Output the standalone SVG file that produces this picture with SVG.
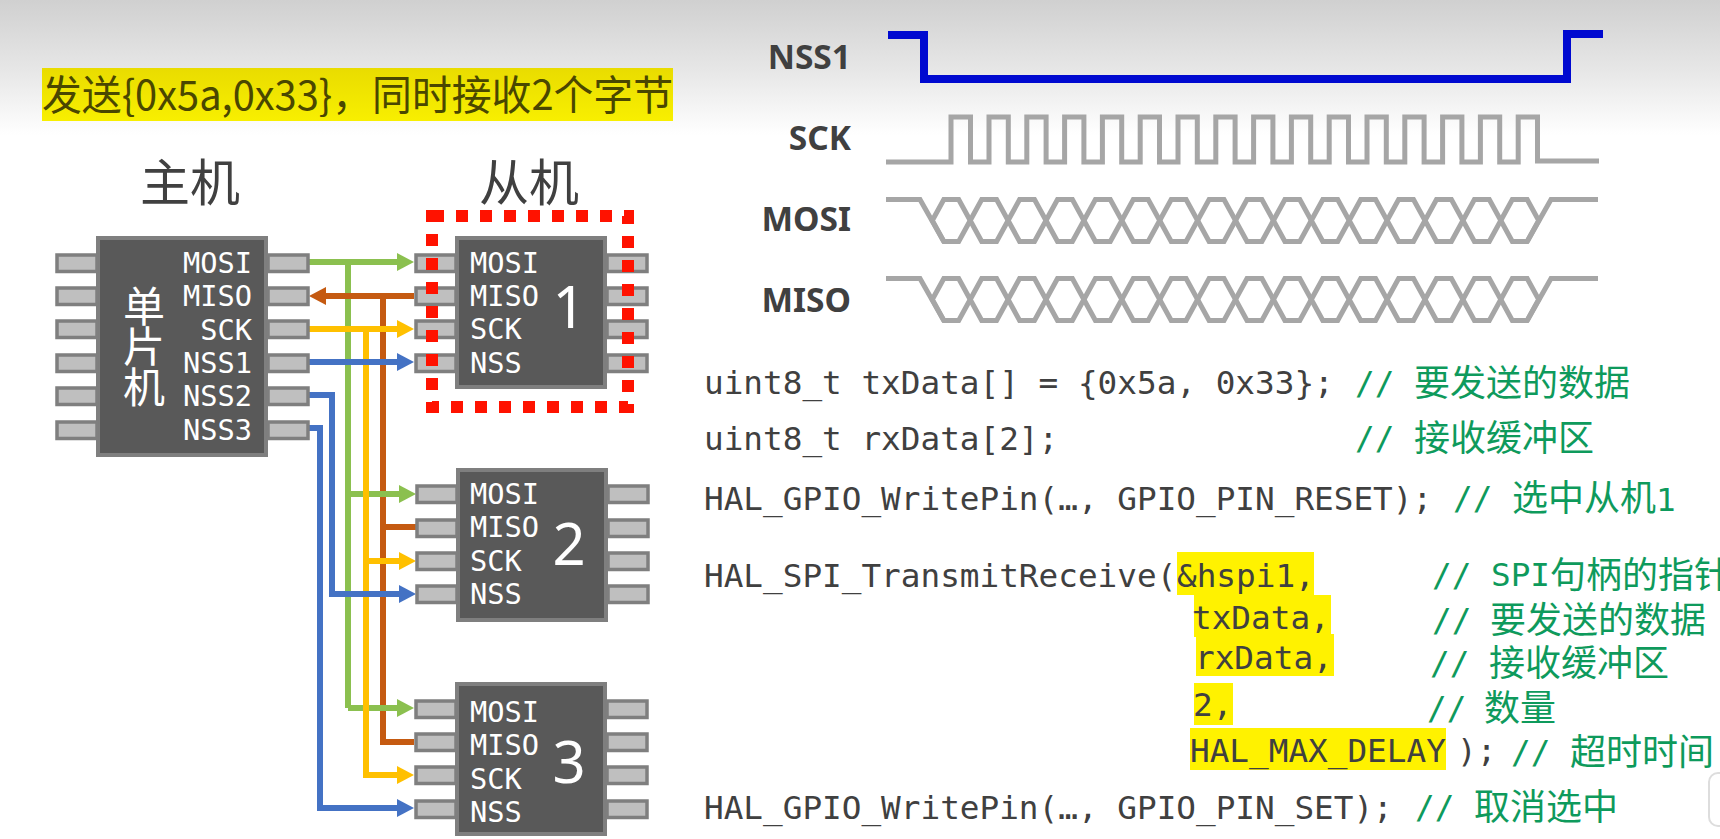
<svg xmlns="http://www.w3.org/2000/svg" width="1720" height="839" viewBox="0 0 1720 839">
<style>
.pin{fill:#bfbfbf;stroke:#7f7f7f;stroke-width:3.5}
.chip{fill:#595959;stroke:#7f7f7f;stroke-width:4}
.pl{font:28.7px "DejaVu Sans Mono","Liberation Mono",monospace;fill:#fff}
.num{font:58px "Noto Sans","Liberation Sans",sans-serif;fill:#fff;text-anchor:middle}
.hd{font:50px "Noto Sans CJK SC",sans-serif;fill:#404040}
.wl{font:bold 33.5px "Noto Sans","Liberation Sans",sans-serif;fill:#404040;text-anchor:end}
.code{font:32.7px "DejaVu Sans Mono","Liberation Mono",monospace;fill:#404040;white-space:pre}
.cm{font:32.7px "DejaVu Sans Mono","Liberation Mono",monospace;fill:#0e9a5c;white-space:pre}
.cj{font:36px "Noto Sans CJK SC",sans-serif;fill:#0e9a5c}
.hl{fill:#fff200}
.wg{fill:none;stroke:#a6a6a6;stroke-width:5}
.c{fill:none;stroke-width:6}
.g{stroke:#8bc04f}.o{stroke:#c55a11}.y{stroke:#ffc000}.b{stroke:#4472c4}
</style>
<defs>
<linearGradient id="bg" x1="0" y1="0" x2="0" y2="1"><stop offset="0" stop-color="#d0d0d0"/><stop offset="0.55" stop-color="#e8e8e8"/><stop offset="1" stop-color="#ffffff"/></linearGradient>
<linearGradient id="ty" x1="0" y1="0" x2="0" y2="1"><stop offset="0" stop-color="#e9dc00"/><stop offset="1" stop-color="#f8ef00"/></linearGradient>
<marker id="ag" markerUnits="userSpaceOnUse" markerWidth="17" markerHeight="18" refX="5" refY="9" orient="auto"><path d="M0,0L17,9L0,18Z" fill="#8bc04f"/></marker>
<marker id="ao" markerUnits="userSpaceOnUse" markerWidth="17" markerHeight="18" refX="5" refY="9" orient="auto"><path d="M0,0L17,9L0,18Z" fill="#c55a11"/></marker>
<marker id="ay" markerUnits="userSpaceOnUse" markerWidth="17" markerHeight="18" refX="5" refY="9" orient="auto"><path d="M0,0L17,9L0,18Z" fill="#ffc000"/></marker>
<marker id="ab" markerUnits="userSpaceOnUse" markerWidth="17" markerHeight="18" refX="5" refY="9" orient="auto"><path d="M0,0L17,9L0,18Z" fill="#4472c4"/></marker>
<rect id="pins" class="pin" x="0" y="0" width="40" height="16.5"/>
<path id="hex" d="M0,21l11.5,-21h14.9l11.5,21l-11.5,21h-14.9z" class="wg"/>
<g id="wave">
<path class="wg" d="M886,0H920L943.8,42"/>
<path class="wg" d="M1527.2,42L1551,0H1598"/>
<use href="#hex" x="932.3"/><use href="#hex" x="970.2"/><use href="#hex" x="1008.1"/><use href="#hex" x="1046"/><use href="#hex" x="1083.9"/><use href="#hex" x="1121.8"/><use href="#hex" x="1159.7"/><use href="#hex" x="1197.6"/><use href="#hex" x="1235.5"/><use href="#hex" x="1273.4"/><use href="#hex" x="1311.3"/><use href="#hex" x="1349.2"/><use href="#hex" x="1387.1"/><use href="#hex" x="1425"/><use href="#hex" x="1462.9"/><use href="#hex" x="1500.8"/>
</g>
</defs>
<rect width="1720" height="839" fill="#fff"/>
<rect width="1720" height="135" fill="url(#bg)"/>

<g id="title">
<rect x="42" y="68" width="631" height="53" fill="url(#ty)"/>
<text x="42" y="110" font-family="'Noto Sans CJK SC',sans-serif" font-size="41" fill="#4a4700" textLength="631" lengthAdjust="spacingAndGlyphs">发送{0x5a,0x33}，同时接收2个字节</text>
</g>
<text class="hd" x="140" y="201" id="hd-master">主机</text>
<text class="hd" x="479" y="201" id="hd-slave">从机</text>

<g id="connectors">
<path class="c o" d="M383,296V742H414M383,527H416"/>
<path class="c g" d="M348,262V708"/>
<path class="c y" d="M366,329V775"/>
<path class="c g" d="M348,494H404" marker-end="url(#ag)"/>
<path class="c y" d="M366,561H404" marker-end="url(#ay)"/>
<path class="c g" d="M348,708H402" marker-end="url(#ag)"/>
<path class="c y" d="M366,329V775H402" marker-end="url(#ay)"/>
<path class="c g" d="M309,262H402" marker-end="url(#ag)"/>
<path class="c y" d="M309,329H402" marker-end="url(#ay)"/>
<path class="c b" d="M309,362H402" marker-end="url(#ab)"/>
<path class="c b" d="M309,395H332V594H404" marker-end="url(#ab)"/>
<path class="c b" d="M309,428H320V808H402" marker-end="url(#ab)"/>
<path class="c o" d="M414,296H321" marker-end="url(#ao)"/>
</g>

<g id="master">
<rect class="chip" x="98" y="238" width="168" height="217"/>
<use href="#pins" x="57" y="255"/><use href="#pins" x="57" y="288"/><use href="#pins" x="57" y="321"/><use href="#pins" x="57" y="355"/><use href="#pins" x="57" y="388"/><use href="#pins" x="57" y="422"/>
<use href="#pins" x="268" y="255"/><use href="#pins" x="268" y="288"/><use href="#pins" x="268" y="321"/><use href="#pins" x="268" y="355"/><use href="#pins" x="268" y="388"/><use href="#pins" x="268" y="422"/>
<g text-anchor="end">
<text class="pl" x="252" y="273">MOSI</text><text class="pl" x="252" y="306">MISO</text><text class="pl" x="252" y="340">SCK</text><text class="pl" x="252" y="373">NSS1</text><text class="pl" x="252" y="406">NSS2</text><text class="pl" x="252" y="440">NSS3</text>
</g>
<g font-family="'Noto Sans CJK SC',sans-serif" font-size="42" fill="#fff" text-anchor="middle">
<text x="144" y="322">单</text><text x="144" y="362">片</text><text x="144" y="403">机</text>
</g>
</g>

<g id="slave1">
<rect class="chip" x="457" y="238" width="148" height="149"/>
<use href="#pins" x="416" y="255"/><use href="#pins" x="416" y="288"/><use href="#pins" x="416" y="321"/><use href="#pins" x="416" y="355"/>
<use href="#pins" x="607" y="255"/><use href="#pins" x="607" y="288"/><use href="#pins" x="607" y="321"/><use href="#pins" x="607" y="355"/>
<text class="pl" x="470" y="273">MOSI</text><text class="pl" x="470" y="306">MISO</text><text class="pl" x="470" y="339">SCK</text><text class="pl" x="470" y="373">NSS</text>
<text class="num" x="569" y="328">1</text>
</g>
<rect id="select" x="432" y="216" width="196" height="191" fill="none" stroke="#ff1200" stroke-width="12" stroke-dasharray="12 12"/>

<g id="slave2">
<rect class="chip" x="458" y="470" width="148" height="150"/>
<use href="#pins" x="417" y="486"/><use href="#pins" x="417" y="520"/><use href="#pins" x="417" y="553"/><use href="#pins" x="417" y="586"/>
<use href="#pins" x="608" y="486"/><use href="#pins" x="608" y="520"/><use href="#pins" x="608" y="553"/><use href="#pins" x="608" y="586"/>
<text class="pl" x="470" y="504">MOSI</text><text class="pl" x="470" y="537">MISO</text><text class="pl" x="470" y="571">SCK</text><text class="pl" x="470" y="604">NSS</text>
<text class="num" x="569" y="565">2</text>
</g>

<g id="slave3">
<rect class="chip" x="457" y="684" width="148" height="150"/>
<use href="#pins" x="416" y="701"/><use href="#pins" x="416" y="734"/><use href="#pins" x="416" y="767"/><use href="#pins" x="416" y="801"/>
<use href="#pins" x="607" y="701"/><use href="#pins" x="607" y="734"/><use href="#pins" x="607" y="767"/><use href="#pins" x="607" y="801"/>
<text class="pl" x="470" y="722">MOSI</text><text class="pl" x="470" y="755">MISO</text><text class="pl" x="470" y="789">SCK</text><text class="pl" x="470" y="822">NSS</text>
<text class="num" x="569" y="783">3</text>
</g>

<g id="waveforms">
<text class="wl" x="851" y="69">NSS1</text>
<text class="wl" x="851" y="150">SCK</text>
<text class="wl" x="851" y="231">MOSI</text>
<text class="wl" x="851" y="312">MISO</text>
<path fill="none" stroke="#0009d0" stroke-width="8" d="M888,35H924V79H1567V34H1603"/>
<path class="wg" d="M886,162H951V117H970.5V162H989V117H1008.3V162H1026.8V117H1046.1V162H1064.6V117H1083.9V162H1102.4V117H1121.7V162H1140.2V117H1159.5V162H1178V117H1197.3V162H1215.8V117H1235.1V162H1253.6V117H1272.9V162H1291.4V117H1310.7V162H1329.2V117H1348.5V162H1367V117H1386.3V162H1404.8V117H1424.1V162H1442.6V117H1461.9V162H1480.4V117H1499.7V162H1518.2V117H1537.5V161H1599"/>
<use href="#wave" y="199.5"/>
<use href="#wave" y="278.5"/>
</g>

<g id="code">
<rect class="hl" x="1177" y="552" width="137" height="43"/>
<rect class="hl" x="1194" y="595" width="137" height="42"/>
<rect class="hl" x="1196" y="634" width="138" height="42"/>
<rect class="hl" x="1194" y="683" width="39" height="42"/>
<rect class="hl" x="1190" y="728" width="256" height="42"/>
<text class="code" x="704" y="394">uint8_t txData[] = {0x5a, 0x33};</text>
<text class="cm" x="1355" y="394">//</text><text class="cj" x="1414" y="396">要发送的数据</text>
<text class="code" x="704" y="450">uint8_t rxData[2];</text>
<text class="cm" x="1355" y="449">//</text><text class="cj" x="1414" y="451">接收缓冲区</text>
<text class="code" x="704" y="510">HAL_GPIO_WritePin(…, GPIO_PIN_RESET);</text>
<text class="cm" x="1453" y="509">//</text><text class="cj" x="1512" y="511">选中从机<tspan class="cm">1</tspan></text>
<text class="code" x="704" y="587">HAL_SPI_TransmitReceive(</text><text class="code" x="1177" y="587">&amp;hspi1,</text>
<text class="cm" x="1432" y="586">//</text><text class="cm" x="1491" y="586">SPI</text><text class="cj" x="1550" y="588">句柄的指针</text>
<text class="code" x="1192" y="629">txData,</text>
<text class="cm" x="1432" y="631">//</text><text class="cj" x="1490" y="633">要发送的数据</text>
<text class="code" x="1195" y="669">rxData,</text>
<text class="cm" x="1430" y="674">//</text><text class="cj" x="1489" y="676">接收缓冲区</text>
<text class="code" x="1193" y="716">2,</text>
<text class="cm" x="1427" y="719">//</text><text class="cj" x="1484" y="721">数量</text>
<text class="code" x="1190" y="762">HAL_MAX_DELAY</text><text class="code" x="1457" y="762">);</text>
<text class="cm" x="1511" y="763">//</text><text class="cj" x="1570" y="765">超时时间</text>
<text class="code" x="704" y="819">HAL_GPIO_WritePin(…, GPIO_PIN_SET);</text>
<text class="cm" x="1415" y="818">//</text><text class="cj" x="1474" y="820">取消选中</text>
</g>
<rect x="1709" y="773" width="30" height="53" rx="9" fill="#fff" stroke="#dddddd" stroke-width="2"/>
</svg>
